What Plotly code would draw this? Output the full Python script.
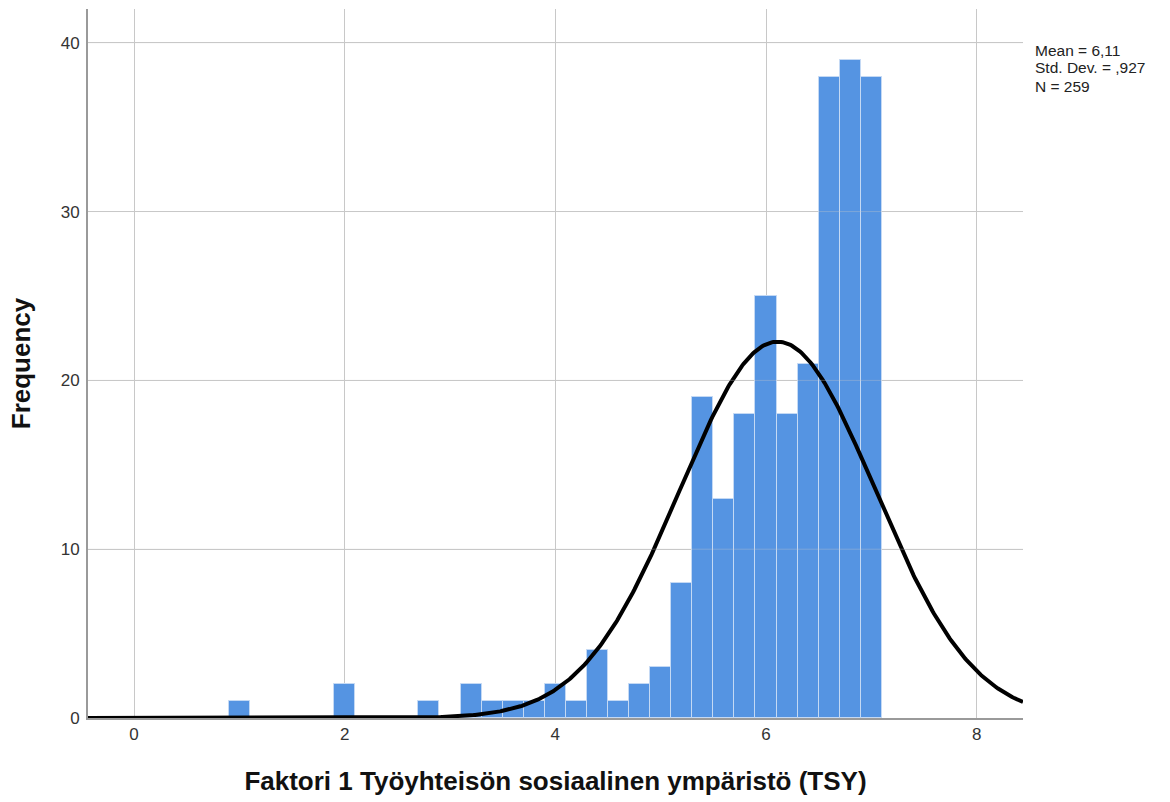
import numpy as np
import plotly.graph_objects as go

# Histogram bins (centres, width 0.2) and their frequencies
bin_centers = [1.0, 2.0, 2.8, 3.2, 3.4, 3.6, 3.8, 4.0, 4.2, 4.4, 4.6, 4.8,
               5.0, 5.2, 5.4, 5.6, 5.8, 6.0, 6.2, 6.4, 6.6, 6.8, 7.0]
frequencies = [1, 2, 1, 2, 1, 1, 1, 2, 1, 4, 1, 2,
               3, 8, 19, 13, 18, 25, 18, 21, 38, 39, 38]
bin_width = 0.2

# Summary statistics shown next to the plot
mean_value = 6.11
std_dev = 0.927
n_cases = 259
stat_lines = ["Mean = 6,11", "Std. Dev. = ,927", "N = 259"]

x_ticks = [0, 2, 4, 6, 8]
y_ticks = [0, 10, 20, 30, 40]
x_range = [-0.437, 8.44]
y_range = [0, 42.0]

FONT = "Arial, 'Liberation Sans', sans-serif"

# Normal curve scaled to the histogram counts
curve_x = np.linspace(x_range[0], x_range[1], 600)
curve_y = (n_cases * bin_width / (std_dev * np.sqrt(2 * np.pi))
           * np.exp(-0.5 * ((curve_x - mean_value) / std_dev) ** 2))

fig = go.Figure()
fig.add_trace(go.Bar(
    x=bin_centers, y=frequencies, width=bin_width,
    marker=dict(color="#5594e2", line=dict(color="#c4d9f4", width=1)),
    hoverinfo="x+y",
))
fig.add_trace(go.Scatter(
    x=curve_x, y=curve_y, mode="lines",
    line=dict(color="black", width=4), hoverinfo="skip",
))

# faint gridlines showing through the bars
for v in y_ticks[1:]:
    fig.add_shape(type="line", xref="paper", x0=0, x1=1, yref="y", y0=v, y1=v,
                  line=dict(color="rgba(200,200,200,0.35)", width=1), layer="above")

plot_h = 802 - 9 - 84

# statistics block, one line per annotation for tight line spacing
for i, line in enumerate(stat_lines):
    fig.add_annotation(
        text=line, xref="paper", yref="paper", x=1.0107,
        y=1.0 - (41 + 18 * i) / plot_h,
        xanchor="left", yanchor="middle", showarrow=False,
        font=dict(family=FONT, size=15.5, color="#222222"),
    )

fig.update_layout(
    width=1170, height=802,
    margin=dict(l=88, r=147, t=9, b=84),
    paper_bgcolor="white", plot_bgcolor="white",
    showlegend=False, bargap=0,
    font=dict(family=FONT, color="#333333"),
)
fig.update_xaxes(
    range=x_range, tickvals=x_ticks, ticks="", ticklabelstandoff=0,
    tickfont=dict(size=17, color="#333333"),
    showgrid=True, gridcolor="#c8c8c8", gridwidth=1,
    showline=True, linecolor="#9a9a9a", linewidth=2, zeroline=False,
    title=dict(text="Faktori 1 Työyhteisön sosiaalinen ympäristö (TSY)",
               font=dict(family=FONT, size=26, color="#111111", weight="bold"),
               standoff=28),
)
fig.update_yaxes(
    range=y_range, tickvals=y_ticks, ticks="", ticklabelstandoff=3,
    tickfont=dict(size=17, color="#333333"),
    showgrid=True, gridcolor="#c8c8c8", gridwidth=1,
    showline=True, linecolor="#9a9a9a", linewidth=2, zeroline=False,
    title=dict(text="Frequency",
               font=dict(family=FONT, size=26, color="#111111", weight="bold"),
               standoff=23),
)

fig.write_html("out.html")
